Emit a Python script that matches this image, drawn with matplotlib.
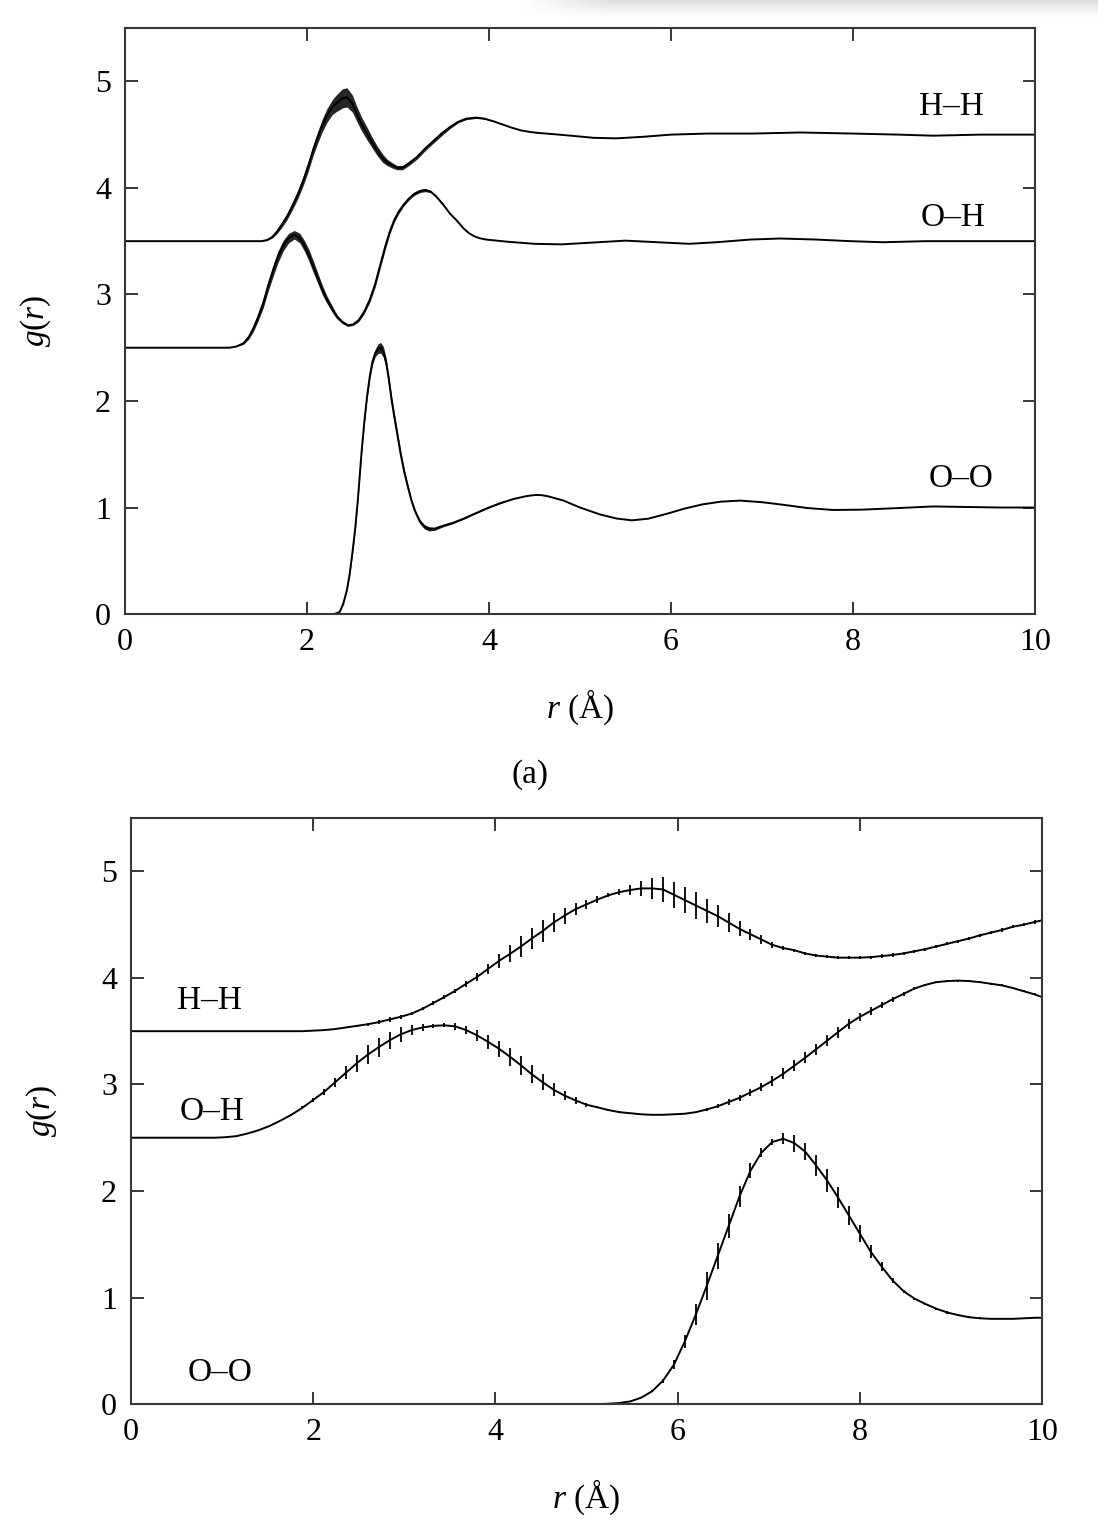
import numpy as np
import matplotlib
matplotlib.use("Agg")
import matplotlib.pyplot as plt

plt.rcParams['font.family'] = ['Liberation Serif', 'DejaVu Serif']
plt.rcParams['mathtext.fontset'] = 'custom'
plt.rcParams['mathtext.rm'] = 'Liberation Serif'
plt.rcParams['mathtext.it'] = 'Liberation Serif:italic'

# ---------------- panel (a): fine-grid g(r), H-H shifted +3.5, O-H shifted +2.5
top_oo_r = [0.0, 2.30, 2.36, 2.40, 2.44, 2.47, 2.50, 2.53, 2.56, 2.60, 2.63, 2.66, 2.69,
            2.72, 2.75, 2.78, 2.81, 2.84, 2.87, 2.90, 2.93, 2.96, 2.99, 3.03, 3.07, 3.11,
            3.15, 3.19, 3.24, 3.29, 3.34, 3.40, 3.50, 3.60, 3.72, 3.85, 3.97, 4.12, 4.27,
            4.40, 4.46, 4.52, 4.58, 4.65, 4.82, 5.00, 5.22, 5.40, 5.57, 5.75, 5.95, 6.15,
            6.35, 6.55, 6.76, 7.00, 7.24, 7.50, 7.78, 8.10, 8.50, 8.88, 9.25, 9.62, 10.0]
top_oo_g = [0, 0, 0.02, 0.10, 0.23, 0.38, 0.58, 0.80, 1.08, 1.52, 1.80, 2.04, 2.23,
            2.37, 2.45, 2.49, 2.50, 2.46, 2.36, 2.20, 2.01, 1.85, 1.70, 1.50, 1.33, 1.19,
            1.06, 0.96, 0.87, 0.82, 0.80, 0.80, 0.83, 0.855, 0.895, 0.945, 0.99, 1.04, 1.08,
            1.105, 1.113, 1.118, 1.116, 1.105, 1.065, 1.0, 0.935, 0.897, 0.88, 0.895, 0.94, 0.99,
            1.03, 1.055, 1.065, 1.05, 1.025, 0.995, 0.977, 0.98, 0.995, 1.01, 1.005, 1.0, 1.0]
top_oo_e = [0, 0, 0, 0.005, 0.01, 0.015, 0.02, 0.02, 0.02, 0.02, 0.02, 0.025, 0.03,
            0.03, 0.035, 0.045, 0.05, 0.05, 0.045, 0.04, 0.04, 0.04, 0.04, 0.035, 0.03, 0.025,
            0.02, 0.02, 0.02, 0.02, 0.02, 0.015, 0.01, 0.008, 0.006, 0.005, 0.005, 0.005, 0,
            0, 0, 0, 0, 0, 0, 0, 0, 0, 0, 0, 0, 0,
            0, 0, 0, 0, 0, 0, 0, 0, 0, 0, 0, 0, 0]

top_oh_r = [0.0, 1.15, 1.22, 1.30, 1.36, 1.41, 1.46, 1.52, 1.57, 1.63, 1.68, 1.74, 1.80,
            1.86, 1.92, 1.97, 2.02, 2.07, 2.12, 2.17, 2.22, 2.28, 2.33, 2.39, 2.45, 2.51,
            2.57, 2.63, 2.69, 2.75, 2.80, 2.86, 2.91, 2.96, 3.01, 3.06, 3.12, 3.18, 3.24,
            3.30, 3.36, 3.42, 3.50, 3.57, 3.65, 3.72, 3.78, 3.84, 3.90, 3.97, 4.05, 4.20,
            4.50, 4.80, 5.10, 5.50, 5.85, 6.20, 6.50, 6.87, 7.20, 7.60, 7.97, 8.33, 8.80,
            9.40, 10.0]
top_oh_g = [2.5, 2.5, 2.51, 2.54, 2.60, 2.68, 2.78, 2.92, 3.07, 3.23, 3.35, 3.46, 3.53,
            3.56, 3.53, 3.46, 3.37, 3.26, 3.15, 3.04, 2.95, 2.86, 2.79, 2.74, 2.71, 2.72,
            2.76, 2.84, 2.95, 3.10, 3.26, 3.45, 3.59, 3.70, 3.78, 3.84, 3.90, 3.945, 3.97,
            3.98, 3.965, 3.92, 3.84, 3.76, 3.69, 3.62, 3.575, 3.545, 3.527, 3.515, 3.508, 3.495,
            3.475, 3.47, 3.485, 3.505, 3.49, 3.475, 3.49, 3.515, 3.525, 3.515, 3.50, 3.49, 3.50,
            3.50, 3.50]
top_oh_e = [0, 0, 0, 0.01, 0.02, 0.03, 0.035, 0.045, 0.05, 0.055, 0.055, 0.05, 0.045,
            0.04, 0.045, 0.05, 0.055, 0.055, 0.05, 0.045, 0.035, 0.03, 0.02, 0.015, 0.01, 0.01,
            0.015, 0.02, 0.025, 0.03, 0.03, 0.03, 0.025, 0.02, 0.02, 0.015, 0.015, 0.015, 0.015,
            0.015, 0.01, 0.01, 0.01, 0.008, 0.005, 0, 0, 0, 0, 0, 0, 0,
            0, 0, 0, 0, 0, 0, 0, 0, 0, 0, 0, 0, 0,
            0, 0]

top_hh_r = [0.0, 1.50, 1.56, 1.62, 1.67, 1.72, 1.78, 1.84, 1.90, 1.96, 2.02, 2.07, 2.12,
            2.17, 2.22, 2.28, 2.33, 2.39, 2.44, 2.50, 2.55, 2.60, 2.66, 2.72, 2.77, 2.83,
            2.88, 2.94, 2.99, 3.05, 3.12, 3.21, 3.30, 3.39, 3.48, 3.57, 3.66, 3.75, 3.86,
            3.95, 4.05, 4.15, 4.25, 4.35, 4.45, 4.55, 4.70, 4.90, 5.15, 5.40, 5.70, 6.00,
            6.40, 6.90, 7.42, 8.00, 8.50, 8.88, 9.40, 10.0]
top_hh_g = [3.5, 3.5, 3.51, 3.54, 3.59, 3.65, 3.73, 3.83, 3.94, 4.07, 4.22, 4.36, 4.48,
            4.59, 4.68, 4.76, 4.80, 4.84, 4.85, 4.79, 4.69, 4.60, 4.51, 4.42, 4.35, 4.28,
            4.24, 4.21, 4.19, 4.19, 4.23, 4.29, 4.37, 4.44, 4.51, 4.57, 4.62, 4.65, 4.66,
            4.65, 4.625, 4.595, 4.565, 4.54, 4.525, 4.515, 4.505, 4.49, 4.47, 4.465, 4.48, 4.50,
            4.51, 4.51, 4.52, 4.51, 4.50, 4.49, 4.50, 4.50]
top_hh_e = [0, 0, 0.005, 0.01, 0.02, 0.025, 0.03, 0.035, 0.04, 0.045, 0.05, 0.05, 0.055,
            0.06, 0.065, 0.07, 0.08, 0.09, 0.09, 0.08, 0.07, 0.065, 0.06, 0.05, 0.045, 0.04,
            0.03, 0.025, 0.02, 0.02, 0.02, 0.02, 0.02, 0.02, 0.02, 0.015, 0.01, 0.01, 0.008,
            0.005, 0, 0, 0, 0, 0, 0, 0, 0, 0, 0, 0, 0,
            0, 0, 0, 0, 0, 0, 0, 0]

# ---------------- panel (b): binned g(r) with error bars
r_bins = np.round(np.arange(0.08, 9.93, 0.12), 2)
bot_r = np.concatenate([[0.0], r_bins, [10.0]])

bot_hh = [3.50,
          3.50, 3.50, 3.50, 3.50, 3.50, 3.50, 3.50, 3.50, 3.50, 3.50,
          3.50, 3.50, 3.50, 3.50, 3.50, 3.50, 3.505, 3.51, 3.52, 3.535,
          3.55, 3.565, 3.585, 3.61, 3.635, 3.665, 3.71, 3.765, 3.82, 3.88,
          3.945, 4.01, 4.085, 4.16, 4.225, 4.295, 4.37, 4.44, 4.52, 4.585,
          4.645, 4.69, 4.735, 4.775, 4.805, 4.825, 4.84, 4.84, 4.83, 4.78,
          4.73, 4.68, 4.63, 4.58, 4.52, 4.46, 4.41, 4.36, 4.31, 4.28,
          4.26, 4.23, 4.21, 4.20, 4.19, 4.19, 4.19, 4.195, 4.205, 4.215,
          4.23, 4.25, 4.27, 4.295, 4.32, 4.345, 4.37, 4.40, 4.425, 4.45,
          4.48, 4.50, 4.525,
          4.54]
bot_hh_e = [0,
            0, 0, 0, 0, 0, 0, 0, 0, 0, 0,
            0, 0, 0, 0, 0, 0, 0, 0, 0, 0,
            0.01, 0.015, 0.02, 0.02, 0.02, 0.015, 0.015, 0.015, 0.02, 0.02,
            0.03, 0.04, 0.045, 0.065, 0.08, 0.095, 0.10, 0.10, 0.09, 0.075,
            0.055, 0.04, 0.03, 0.02, 0.025, 0.045, 0.07, 0.10, 0.115, 0.12,
            0.125, 0.125, 0.11, 0.10, 0.09, 0.07, 0.05, 0.04, 0.025, 0.015,
            0.015, 0.015, 0.015, 0.015, 0.015, 0.015, 0.015, 0.015, 0.015, 0.015,
            0.015, 0.015, 0.015, 0.015, 0.015, 0.015, 0.015, 0.015, 0.015, 0.015,
            0.015, 0.015, 0.015,
            0]

bot_oh = [2.50,
          2.50, 2.50, 2.50, 2.50, 2.50, 2.50, 2.50, 2.50, 2.505, 2.515,
          2.54, 2.57, 2.61, 2.66, 2.715, 2.78, 2.855, 2.93, 3.02, 3.11,
          3.20, 3.28, 3.35, 3.415, 3.47, 3.51, 3.535, 3.55, 3.555, 3.545,
          3.51, 3.46, 3.40, 3.335, 3.26, 3.18, 3.095, 3.02, 2.95, 2.895,
          2.85, 2.81, 2.785, 2.76, 2.74, 2.73, 2.72, 2.715, 2.715, 2.72,
          2.725, 2.74, 2.765, 2.795, 2.835, 2.875, 2.925, 2.975, 3.035, 3.10,
          3.175, 3.25, 3.33, 3.41, 3.49, 3.57, 3.635, 3.69, 3.745, 3.80,
          3.85, 3.90, 3.935, 3.96, 3.97, 3.975, 3.97, 3.96, 3.945, 3.93,
          3.905, 3.875, 3.845,
          3.82]
bot_oh_e = [0,
            0, 0, 0, 0, 0, 0, 0, 0, 0, 0,
            0, 0, 0, 0, 0.01, 0.015, 0.02, 0.03, 0.045, 0.06,
            0.08, 0.09, 0.09, 0.08, 0.07, 0.05, 0.035, 0.02, 0.02, 0.03,
            0.04, 0.05, 0.065, 0.075, 0.085, 0.09, 0.085, 0.075, 0.06, 0.045,
            0.03, 0.02, 0.01, 0.01, 0.01, 0.005, 0, 0, 0, 0,
            0, 0.005, 0.01, 0.02, 0.025, 0.03, 0.035, 0.04, 0.045, 0.05,
            0.05, 0.05, 0.05, 0.05, 0.05, 0.045, 0.04, 0.035, 0.03, 0.025,
            0.02, 0.015, 0.01, 0.01, 0.01, 0.01, 0.01, 0.01, 0.01, 0.01,
            0.01, 0.01, 0.01,
            0]

bot_oo = [0,
          0, 0, 0, 0, 0, 0, 0, 0, 0, 0,
          0, 0, 0, 0, 0, 0, 0, 0, 0, 0,
          0, 0, 0, 0, 0, 0, 0, 0, 0, 0,
          0, 0, 0, 0, 0, 0, 0, 0, 0, 0,
          0, 0, 0, 0.003, 0.01, 0.025, 0.06, 0.12, 0.22, 0.37,
          0.59, 0.84, 1.11, 1.39, 1.67, 1.95, 2.19, 2.36, 2.46, 2.49,
          2.45, 2.37, 2.24, 2.10, 1.94, 1.77, 1.60, 1.43, 1.29, 1.16,
          1.06, 0.99, 0.94, 0.895, 0.86, 0.835, 0.815, 0.805, 0.80, 0.80,
          0.80, 0.805, 0.81,
          0.81]
bot_oo_e = [0,
            0, 0, 0, 0, 0, 0, 0, 0, 0, 0,
            0, 0, 0, 0, 0, 0, 0, 0, 0, 0,
            0, 0, 0, 0, 0, 0, 0, 0, 0, 0,
            0, 0, 0, 0, 0, 0, 0, 0, 0, 0,
            0, 0, 0, 0, 0, 0, 0, 0.01, 0.02, 0.04,
            0.06, 0.10, 0.13, 0.12, 0.11, 0.10, 0.07, 0.04, 0.03, 0.05,
            0.08, 0.08, 0.10, 0.11, 0.10, 0.09, 0.08, 0.06, 0.04, 0.02,
            0.015, 0.01, 0.01, 0.01, 0.01, 0.01, 0.01, 0.01, 0, 0,
            0, 0, 0,
            0]

spine_col = '#36363e'
LW = 1.4


def style_axes(ax):
    ax.set_xlim(0, 10)
    ax.set_ylim(0, 5.5)
    ax.set_xticks([0, 2, 4, 6, 8, 10])
    ax.set_yticks([0, 1, 2, 3, 4, 5])
    ax.tick_params(direction='in', length=9, width=1.4, color=spine_col,
                   labelsize=23, top=True, right=True)
    ax.tick_params(axis='x', pad=10)
    ax.tick_params(axis='y', pad=10)
    for s in ax.spines.values():
        s.set_color(spine_col)
        s.set_linewidth(1.5)
    ax.set_xlabel(r'$r$ (Å)', fontsize=24, labelpad=22)
    ax.set_ylabel(r'$g(r)$', fontsize=24, labelpad=30)


fig = plt.figure(figsize=(10.98, 15.26), dpi=100)

# panel (a)
ax1 = fig.add_axes([0.1138, 0.5976, 0.8288, 0.3840])
for r, g, e in [(top_oo_r, top_oo_g, top_oo_e),
                (top_oh_r, top_oh_g, top_oh_e),
                (top_hh_r, top_hh_g, top_hh_e)]:
    r = np.array(r)
    g = np.array(g)
    e = np.array(e)
    ax1.fill_between(r, g - e, g + e, color='k', lw=0, alpha=0.85)
    ax1.plot(r, g, color='k', lw=LW)
style_axes(ax1)
ax1.text(9.08, 4.76, 'H–H', fontsize=24, ha='center', va='center')
ax1.text(9.10, 3.72, 'O–H', fontsize=24, ha='center', va='center')
ax1.text(9.19, 1.27, 'O–O', fontsize=24, ha='center', va='center')

fig.text(0.4827, 0.4921, '(a)', fontsize=24, ha='center', va='center')

# panel (b)
ax2 = fig.add_axes([0.1193, 0.0799, 0.8297, 0.3840])
for g, e in [(bot_oo, bot_oo_e), (bot_oh, bot_oh_e), (bot_hh, bot_hh_e)]:
    g = np.array(g)
    e = np.array(e)
    ax2.plot(bot_r, g, color='k', lw=LW)
    m = e > 0
    ax2.errorbar(bot_r[m], g[m], yerr=e[m], fmt='none', ecolor='k',
                 elinewidth=1.3, capsize=0)
style_axes(ax2)
ax2.text(0.86, 3.79, 'H–H', fontsize=24, ha='center', va='center')
ax2.text(0.89, 2.74, 'O–H', fontsize=24, ha='center', va='center')
ax2.text(0.98, 0.29, 'O–O', fontsize=24, ha='center', va='center')

# faint page shadow along the top right
sh = fig.add_axes([0.47, 0.988, 0.53, 0.012])
yy = np.linspace(1, 0, 20)[:, None]
xx = np.clip(np.linspace(0, 6, 200)[None, :], 0, 1)
sh.imshow(1 - 0.14 * yy * xx, cmap='gray', vmin=0, vmax=1, aspect='auto')
sh.axis('off')

fig.savefig('out.png', dpi=100)
